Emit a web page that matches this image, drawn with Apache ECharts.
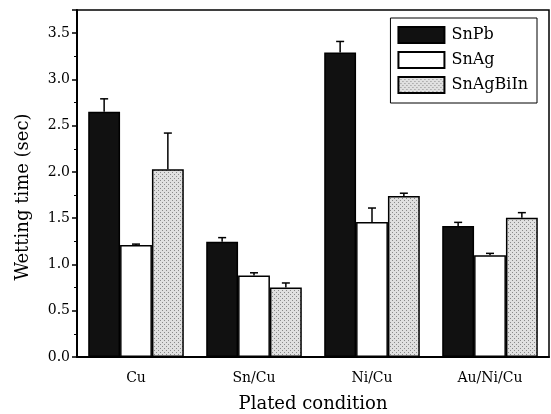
<!DOCTYPE html>
<html>
<head>
<meta charset="utf-8">
<script src="https://cdn.jsdelivr.net/npm/echarts@6/dist/echarts.min.js"></script>
<style>
  html, body { margin: 0; padding: 0; background: #fff; }
  #main { width: 551px; height: 414px; }
</style>
</head>
<body>
<div id="main"></div>
<script>
// data
var categories = ['Cu', 'Sn/Cu', 'Ni/Cu', 'Au/Ni/Cu'];
var snPb = [2.65, 1.245, 3.29, 1.415];
var snPbErr = [0.14, 0.045, 0.12, 0.04];
var snAg = [1.21, 0.88, 1.46, 1.10];
var snAgErr = [0.01, 0.03, 0.15, 0.02];
var snAgBiIn = [2.03, 0.75, 1.74, 1.505];
var snAgBiInErr = [0.39, 0.05, 0.03, 0.055];
var yTicks = [0, 0.5, 1, 1.5, 2, 2.5, 3, 3.5];

var FONT = 'DejaVu Serif';
var CAT_GAP = 0.19;

// dotted grey fill like the printed figure
var pat = document.createElement('canvas');
pat.width = 4; pat.height = 4;
var pc = pat.getContext('2d');
pc.fillStyle = '#e0e0e0';
pc.fillRect(0, 0, 4, 4);
pc.fillStyle = '#8a8a8a';
pc.fillRect(0, 0, 1, 1);
pc.fillRect(2, 2, 1, 1);
var dotted = { image: pat, repeat: 'repeat' };

var chart = echarts.init(document.getElementById('main'));

function errSeries(values, errs, slot) {
    return {
        type: 'custom',
        silent: true,
        z: 5,
        data: values.map(function (v, i) { return [i, v, v + errs[i]]; }),
        renderItem: function (params, api) {
            var lo = api.coord([api.value(0), api.value(1)]);
            var hi = api.coord([api.value(0), api.value(2)]);
            var band = api.size([1, 0])[0];
            var barW = band * (1 - CAT_GAP) / 3;
            var x = lo[0] + (slot - 1) * barW;
            return {
                type: 'group',
                children: [
                    { type: 'line', shape: { x1: x, y1: lo[1], x2: x, y2: hi[1] },
                      style: { stroke: '#000', lineWidth: 1.5 } },
                    { type: 'line', shape: { x1: x - 4, y1: hi[1], x2: x + 4, y2: hi[1] },
                      style: { stroke: '#000', lineWidth: 1.5 } }
                ]
            };
        }
    };
}

var option = {
    animation: false,
    grid: {
        left: 77, right: 2, top: 10, bottom: 57,
        outerBoundsMode: 'none',
        show: true, borderColor: '#000', borderWidth: 1.5
    },
    legend: {
        orient: 'vertical',
        right: 14, top: 18,
        itemWidth: 46, itemHeight: 16, itemGap: 7,
        padding: [8, 9, 9, 7],
        borderColor: '#000', borderWidth: 1,
        backgroundColor: '#fff',
        icon: 'rect',
        textStyle: { fontFamily: FONT, fontSize: 16, lineHeight: 16, color: '#000', padding: [0, 0, 0, 2] },
        data: ['SnPb', 'SnAg', 'SnAgBiIn']
    },
    xAxis: [{
        type: 'category',
        data: categories,
        name: 'Plated condition',
        nameLocation: 'middle',
        nameGap: 38,
        nameTextStyle: { fontFamily: FONT, fontSize: 18, color: '#000' },
        axisLine: { lineStyle: { color: '#000', width: 2 } },
        axisTick: { length: 5, lineStyle: { color: '#000', width: 1.5 } },
        axisLabel: { fontFamily: FONT, fontSize: 14, color: '#000', margin: 14 }
    }, {
        type: 'category',
        data: categories,
        position: 'bottom',
        axisLine: { show: false },
        axisTick: { alignWithLabel: true, length: 6, lineStyle: { color: '#000', width: 1.5 } },
        axisLabel: { show: false }
    }],
    yAxis: {
        type: 'value',
        min: 0, max: 3.75, interval: 0.5,
        splitLine: { show: false },
        axisLine: { show: true, lineStyle: { color: '#000', width: 2 } },
        axisTick: { show: true, length: 5, lineStyle: { color: '#000', width: 1.5 } },
        minorTick: { show: true, splitNumber: 2, length: 3, lineStyle: { color: '#000', width: 1 } },
        axisLabel: {
            fontFamily: FONT, fontSize: 14, color: '#000', margin: 7,
            formatter: function (v) {
                return yTicks.indexOf(v) >= 0 ? v.toFixed(1) : '';
            }
        }
    },
    graphic: [{
        type: 'text',
        x: 23, y: 197,
        rotation: Math.PI / 2,
        style: {
            text: 'Wetting time (sec)',
            fontFamily: FONT, fontSize: 18, fill: '#000',
            align: 'center', verticalAlign: 'middle'
        }
    }],
    series: [
        {
            name: 'SnPb', type: 'bar', data: snPb,
            barGap: '0%', barCategoryGap: (CAT_GAP * 100) + '%',
            itemStyle: { color: '#111', borderColor: '#000', borderWidth: 1.5 }
        },
        {
            name: 'SnAg', type: 'bar', data: snAg,
            itemStyle: { color: '#fff', borderColor: '#000', borderWidth: 1.5 }
        },
        {
            name: 'SnAgBiIn', type: 'bar', data: snAgBiIn,
            itemStyle: { color: dotted, borderColor: '#000', borderWidth: 1.5 }
        },
        errSeries(snPb, snPbErr, 0),
        errSeries(snAg, snAgErr, 1),
        errSeries(snAgBiIn, snAgBiInErr, 2)
    ]
};

chart.setOption(option);
</script>
</body>
</html>
